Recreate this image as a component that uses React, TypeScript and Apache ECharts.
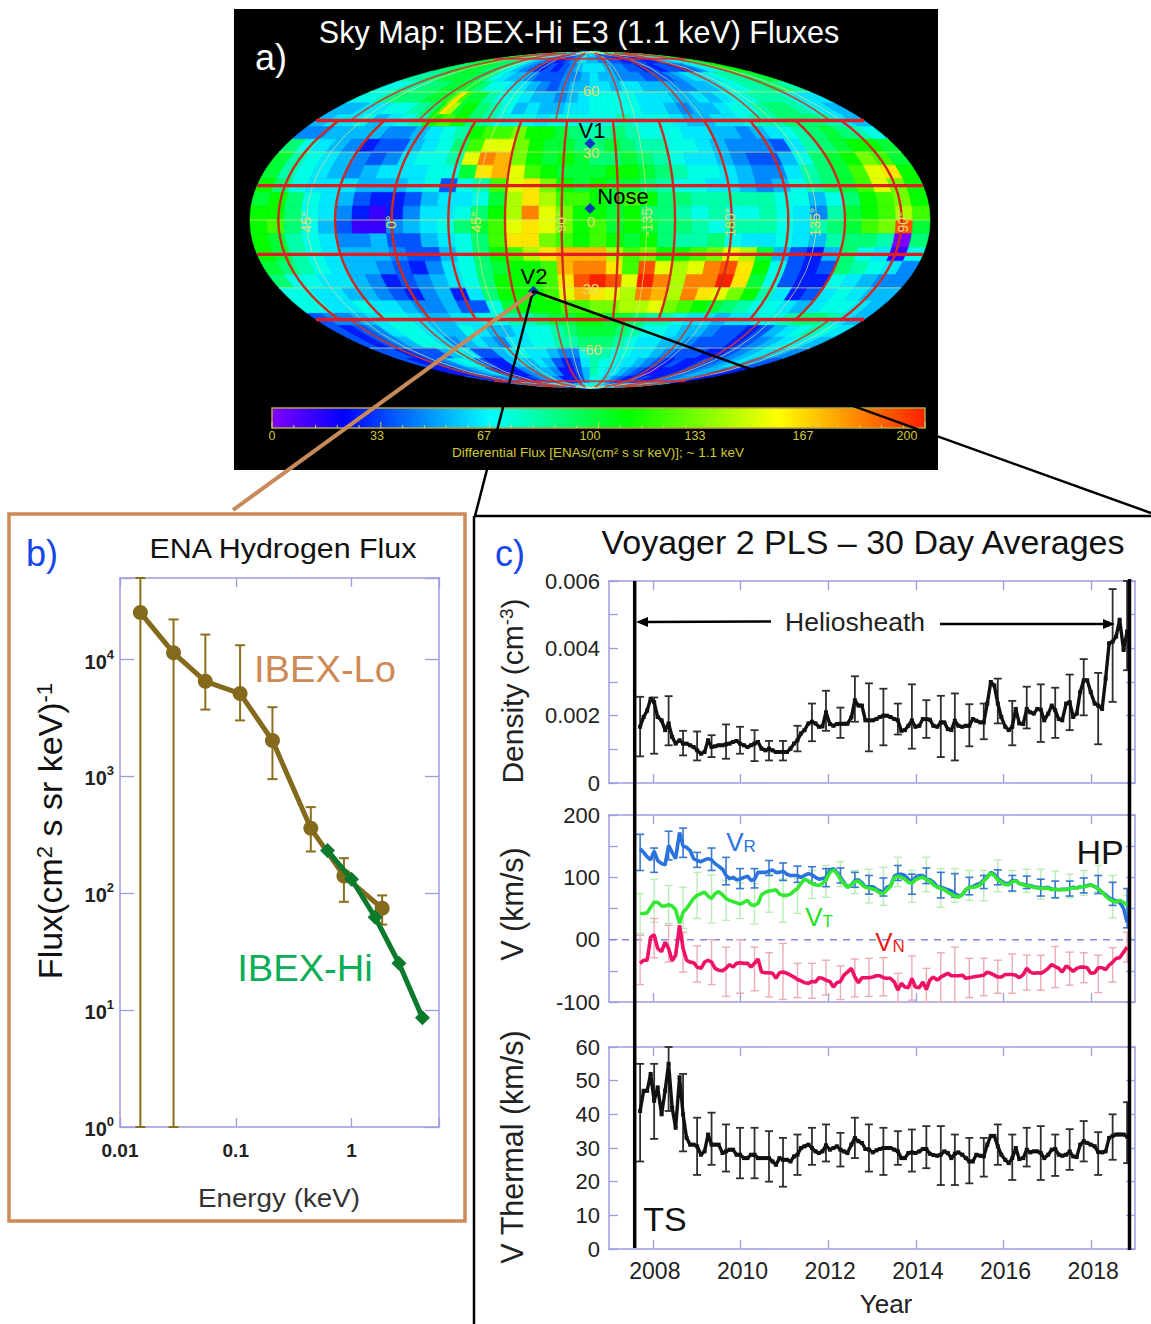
import React, { useEffect, useRef } from "react";
import * as echarts from "echarts";

const FONT = '"Liberation Sans", Arial, sans-serif';

/* ---------- panel a: sky map, level letters a..u index skyLevels, rows from lat 90 down, columns from the left rim ---------- */
const skyLevels = [0, 12, 27, 37, 46, 55, 63, 71, 81, 90, 100, 110, 120, 130, 140, 150, 160, 170, 180, 190, 200];
const skyRows = [
  "kjihhgggffeedddeeeffgfedddccddeefgghhiij",
  "kkkkjjjiggfedccdefgffeeddcccdccdefghijk",
  "jjkkkkjjihfedcdcdefgggfeeddcdcddcdeghjkl",
  "iijjkkkjjhgffedddeefgffeeeddde" + "fggghiijjk",
  "hhiijjkkkjhhggfedeffggfggfffeeffghhiijji",
  "hhhhiijjjjjjkkkk" + "mqmk" + "kkiihhhhggffffeeffgghhhhhhhhggggggffffggffgghhhhiiiiiihhgggg",
  "ffffgggghhhhiijj" + "lqok" + "lljjiihhffggffffgggghhhhhhhhggggffeeffffgghhhhiijjjjiihhggff",
  "fgghfghilmljihhhghhhhhihhhgffgghiijjjigf",
  "eeffffeefghilmmnllkjiijihhhggffefghijkjih",
  "jhgfecddfghjmppnlkkjjkjiihhgfeeedgijkllk",
  "kihgfedeghhipsrnlklkjjkjihggfeddfhjklnmk",
  "kihgfefggghhkqrpmlkkkllkjihhgfeegijkmpql",
  "ljhgggfffghdhimpqnlklkkjihhggfefhijkmpnl",
  "kljhgfdccdfgghkoqommlkmljjiiiiihhfhjlmnl",
  "lljhgecbcegghjlospnllkljjihihhihgeiklmom",
  "lmjhfdbbefghjkmpqpnlmklkjjihiiihgijkmntk",
  "lkihgeefddfghjmqqnmlmlkljiijhgghgfijjiaj",
  "lkihgfffeddfhjlmoqrrromnllmnpokfdcfjhgbh",
  "kjihgffedceghjkllmrssqmtpopstqlhdcdjihge",
  "jhhggfecdefghjlllmqtutpusossuqkhdcchgfee",
  "hhggffedcefcgjlllmprqposrosqpnligcdghgff",
  "hhgghggfeefddhklllmmnnoopnmlkjihhgfghhgf",
  "deefghhgffgghhiijkkllkkjiihggfgghhijjigf",
  "dcdeghhgffhgffghhijkkkjihhgffeddcdfghihg",
  "dcdefhhgefgfegghhiijjjihggffedddcdefghgf",
  "ddcdddfhgddfghggfeehiihhggfedddccdefggfe",
  "dccdeghgdccfgfgfdcdgihhggfedcdccddefgfed",
  "cccdefgdcccefffecbdfihggfedcbcccddeffedc",
  "dcccdefdccdeffecccdfhhgfedcccdccddeeffdc",
  "efeedcccdefggfeeffghhhggfeeeeffeeeffffgf",
];
const redParallels = [82, 45, 15, -15, -45, -82];
const redMeridiansMid = [-165, -135, -105, -75, -45, -15, 15, 45, 75, 105, 135, 165];
const redMeridiansPolar = [-157.5, -112.5, -67.5, -22.5, 22.5, 67.5, 112.5, 157.5];
const paleParallels = [60, 30, 0, -30, -60];
const paleMeridians = [-150, -105, -60, -15, 30, 75, 120, 165];
const skyPoints: [string, number, number][] = [["V1", 0, 34], ["Nose", 0, 5], ["V2", -33, -31.5]];
const lonLabels: [string, number][] = [["45°", 306], ["0°", 391], ["45°", 476], ["90°", 561], ["-135", 647], ["180°", 730], ["135°", 815], ["90°", 903]];
const latLabels: [string, number][] = [["60", 90], ["30", 152], ["0", 221], ["30", 288], ["-60", 349]];
const barLabels: [string, number][] = [["0", 272], ["33", 377], ["67", 484], ["100", 590], ["133", 695], ["167", 803], ["200", 907]];
const colorStops: [number, string][] = [[0, "#8000ff"], [22, "#0000ff"], [67, "#00ffff"], [109, "#00ff00"], [155, "#ffff00"], [200, "#ff2000"]];

/* ---------- panel b ---------- */
const loEnergy = [0.015, 0.029, 0.0546, 0.109, 0.2075, 0.445, 0.86, 1.84];
const loFlux = [25300, 11450, 6530, 5130, 2030, 360, 141, 74.5];
const loUpper = [50000, 22100, 16400, 13300, 3920, 547, 200, 96];
const loLower = [1, 1, 3740, 3020, 950, 228, 84.6, 54];
const hiEnergy = [0.62, 1.0, 1.6, 2.57, 4.1];
const hiFlux = [233, 132, 62.4, 25.2, 8.6];

/* ---------- panel c ---------- */
const years = [
  2007.71, 2007.79, 2007.87, 2007.95, 2008.03, 2008.11, 2008.2, 2008.28, 2008.36, 2008.44, 2008.52, 2008.61, 2008.69, 2008.77, 2008.85, 2008.93,
  2009.01, 2009.1, 2009.18, 2009.26, 2009.34, 2009.42, 2009.5, 2009.59, 2009.67, 2009.75, 2009.83, 2009.91, 2009.99, 2010.08, 2010.16, 2010.24,
  2010.32, 2010.4, 2010.48, 2010.57, 2010.65, 2010.73, 2010.81, 2010.89, 2010.97, 2011.06, 2011.14, 2011.22, 2011.3, 2011.38, 2011.46, 2011.55,
  2011.63, 2011.71, 2011.79, 2011.87, 2011.95, 2012.04, 2012.12, 2012.2, 2012.28, 2012.36, 2012.44, 2012.53, 2012.61, 2012.69, 2012.77, 2012.85,
  2012.93, 2013.02, 2013.1, 2013.18, 2013.26, 2013.34, 2013.42, 2013.51, 2013.59, 2013.67, 2013.75, 2013.83, 2013.91, 2013.99, 2014.08, 2014.16,
  2014.24, 2014.32, 2014.4, 2014.49, 2014.57, 2014.65, 2014.73, 2014.81, 2014.89, 2014.97, 2015.06, 2015.14, 2015.22, 2015.3, 2015.38, 2015.47,
  2015.55, 2015.63, 2015.71, 2015.79, 2015.87, 2015.95, 2016.04, 2016.12, 2016.2, 2016.28, 2016.36, 2016.45, 2016.53, 2016.61, 2016.69, 2016.77,
  2016.85, 2016.93, 2017.02, 2017.1, 2017.18, 2017.26, 2017.34, 2017.43, 2017.51, 2017.59, 2017.67, 2017.75, 2017.83, 2017.91, 2017.99, 2018.08,
  2018.16, 2018.25, 2018.33, 2018.41, 2018.49, 2018.57, 2018.65, 2018.74, 2018.82,
];
const evenYears = [2008, 2010, 2012, 2014, 2016, 2018];

// density in units of 0.001 cm^-3
const density = [
  1.67, 1.96, 2.15, 2.5, 2.4, 1.96, 1.86, 1.57, 1.77, 1.37, 1.17, 1.27, 1.17, 1.17, 1.12, 1.07, 0.97, 0.87, 0.92, 1.27, 1.07, 1.09, 1.12, 1.12,
  1.15, 1.17, 1.22, 1.25, 1.17, 1.12, 1.07, 1.12, 1.17, 1.22, 1.02, 0.97, 1.02, 0.97, 0.92, 0.92, 0.92, 0.92, 1.02, 1.17, 1.27, 1.47, 1.57, 1.77,
  1.82, 1.77, 1.67, 1.68, 2.1, 1.75, 1.7, 1.75, 1.76, 1.76, 1.76, 1.95, 2.46, 2.3, 2.3, 1.86, 1.86, 1.86, 1.9, 1.96, 2.0, 2.0, 1.96, 1.9,
  1.86, 1.55, 1.57, 1.7, 1.86, 1.67, 1.7, 1.9, 1.9, 1.88, 1.7, 1.67, 1.8, 1.8, 1.6, 1.57, 1.85, 1.7, 1.67, 1.7, 1.7, 1.9, 1.85, 1.8,
  1.8, 2.36, 3.0, 2.9, 2.36, 1.96, 1.67, 1.57, 1.67, 2.2, 1.77, 1.75, 2.2, 2.1, 2.06, 2.2, 2.18, 1.86, 2.06, 2.3, 2.16, 1.9, 1.86, 2.36,
  2.4, 1.96, 2.06, 2.7, 3.05, 3.05, 2.7, 2.36, 2.3, 2.2, 3.1, 4.15, 4.2, 4.35, 4.85, 3.95, 4.5,
];
const densityUpper = [2.56, 2.54, 2.58, 1.55, 1.53, 1.42, 1.74, 1.67, 1.57, 1.25, 1.25, 1.7, 2.36, 2.74, 2.24, 3.17, 2.96, 2.8, 2.36, 2.93, 2.46, 2.59, 2.66, 2.34, 2.36, 3.1, 2.44, 2.86, 2.93, 2.83, 3.22, 3.68, 3.27, 5.76, 6.0];
const densityLower = [0.79, 0.87, 1.12, 0.82, 0.67, 0.77, 0.72, 0.87, 0.65, 0.67, 0.67, 0.94, 1.24, 1.55, 1.34, 1.82, 0.94, 1.12, 1.44, 1.02, 1.34, 0.77, 0.67, 1.09, 1.3, 1.77, 1.12, 1.62, 1.22, 1.34, 1.57, 2.01, 1.15, 2.41, 3.35];

const vR = [
  146, 140, 133, 128, 142, 127, 122, 120, 151, 140, 130, 172, 150, 148, 143, 130, 127, 125, 128, 130, 128, 122, 118, 113, 103, 98, 100, 96,
  97, 100, 102, 95, 97, 108, 108, 108, 110, 112, 108, 108, 110, 105, 103, 103, 103, 100, 103, 106, 104, 100, 97, 98,
  100, 112, 114, 108, 100, 92, 84, 88, 95, 96, 91, 85, 85, 85, 81, 78, 76, 84, 86, 102, 105, 105, 103, 97, 93, 100, 103, 103, 97, 96, 92, 85,
  84, 82, 80, 78, 74, 70, 72, 80, 84, 85, 88, 90, 96, 100, 108, 105, 98, 94, 90, 90, 95, 95, 90, 89, 87, 87, 85, 84, 83, 83, 84, 81, 81, 80, 81, 81,
  82, 84, 83, 85, 85, 87, 88, 85, 82, 76, 72, 67, 64, 62, 60, 50, 28,
];
const vRUpper = [169, 147, 174, 179, 140, 147, 132, 114, 114, 127, 123, 118, 117, 114, 115, 108, 103, 99, 119, 105, 115, 108, 106, 100, 103, 112, 103, 102, 97, 94, 94, 99, 103, 92, 82];
const vRLower = [111, 108, 128, 132, 116, 111, 88, 82, 83, 103, 95, 92, 91, 85, 91, 84, 73, 70, 95, 73, 90, 67, 68, 72, 82, 88, 78, 82, 70, 67, 70, 75, 74, 55, 19];

const vT = [
  42, 42, 43, 52, 60, 60, 54, 54, 56, 54, 48, 26, 44, 50, 58, 66, 71, 74, 76, 70, 66, 74, 77, 72, 66, 63, 61, 59, 57, 60, 63, 56, 55, 58, 72, 76, 78, 79, 80, 73, 71, 71, 73, 78, 82, 90, 97, 94, 90, 88, 87, 90,
  96, 108, 112, 106, 97, 90, 84, 88, 93, 94, 88, 84, 83, 81, 79, 75, 74, 80, 85, 100, 102, 100, 97, 92, 90, 96, 99, 100, 96, 94, 88, 84,
  82, 80, 76, 73, 70, 68, 72, 80, 84, 84, 85, 88, 94, 100, 107, 103, 96, 92, 88, 88, 93, 94, 90, 88, 86, 86, 84, 83, 82, 82, 83, 80, 81, 80, 80, 80,
  82, 83, 83, 85, 85, 86, 88, 85, 82, 76, 70, 65, 62, 60, 63, 60, 55,
];
const vTUpper = [74, 97, 87, 84, 108, 104, 95, 91, 90, 106, 97, 98, 111, 119, 125, 111, 113, 116, 132, 111, 132, 114, 114, 111, 111, 128, 111, 113, 113, 110, 105, 111, 119, 103, 71];
const vTLower = [10, 28, 26, 18, 34, 27, 31, 34, 25, 44, 28, 42, 66, 68, 85, 74, 59, 55, 85, 60, 77, 52, 60, 63, 62, 77, 77, 76, 65, 68, 67, 71, 77, 35, 44];

const vN = [
  -38, -33, -33, 4, 8, -14, -19, -4, -14, -34, -25, 23, -14, -33, -36, -37, -44, -46, -36, -33, -36, -46, -49, -50, -46, -40, -44, -38, -37, -38, -38, -44, -38, -31, -52, -53, -53, -54, -62, -53, -52, -54, -57, -60, -64, -66, -69, -70, -67, -68, -61, -62,
  -65, -67, -76, -69, -67, -57, -52, -46, -60, -69, -61, -61, -61, -60, -58, -58, -61, -62, -62, -68, -81, -70, -76, -77, -62, -76, -77, -68, -80, -65, -60, -65,
  -60, -57, -54, -58, -58, -58, -57, -62, -61, -60, -59, -58, -57, -52, -54, -57, -60, -60, -56, -56, -56, -57, -61, -56, -46, -52, -54, -53, -54, -51, -46, -40, -43, -46, -52, -42,
  -46, -51, -46, -44, -44, -45, -54, -53, -45, -45, -48, -41, -36, -30, -29, -20, -12,
];
const vNUpper = [7, 34, 23, 12, -10, 0, -12, 0, -12, -21, -6, -38, -38, -33, -42, -31, -30, -29, -54, -26, -46, -21, -12, -30, -30, -33, -23, -25, -25, -11, -20, -21, -25, -13, 12];
const vNLower = [-72, -29, -36, -52, -68, -72, -91, -86, -82, -92, -96, -93, -94, -89, -96, -92, -91, -90, -100, -97, -100, -100, -100, -93, -90, -86, -86, -81, -81, -77, -73, -69, -85, -68, -36];

const vTh = [
  41, 47, 47, 52, 44, 48, 40, 47, 55, 42, 36, 51, 40, 33, 31, 31, 30.5, 28, 29, 34, 31, 31, 31, 28.5, 29, 29.5, 29.5, 28, 28, 27, 27, 28, 28, 27, 27, 27, 27, 26, 25, 27, 26.5, 26.5, 26, 27.5, 28, 30, 30.5, 31, 30, 29, 28.5, 29,
  30.8, 29.5, 30, 30.5, 29.5, 29, 28.5, 31, 33, 32, 31.5, 29.7, 29.5, 28.7, 29.3, 29.7, 30, 30, 30, 29.5, 29, 27, 27, 28.5, 28.7, 28.5, 29, 29.7, 29.7, 28.3, 27.9, 27.7,
  28, 29, 28.5, 27, 28.3, 28.7, 28, 27, 26, 26, 28, 27.7, 27.5, 31, 33.6, 33.6, 30.5, 28, 26.5, 25.5, 27, 30, 26.7, 27, 29.5, 28.7, 29, 29, 28.5, 27, 28, 29.5, 29.7, 28, 27.7, 28,
  29, 27.5, 27.3, 31, 32, 31.5, 31, 30.5, 28.8, 28.7, 29, 33, 33.6, 34, 34, 34, 33.4,
];
const vThUpper = [55, 55, 60, 52, 39, 40.5, 37, 36, 36, 35, 33, 34, 36, 37, 34.5, 39, 37, 36, 35, 35.5, 36.5, 36.5, 34, 33, 33, 37, 34, 36, 36.5, 34, 35.6, 38, 34.7, 40, 43.6];
const vThLower = [26, 32.7, 41, 29, 22, 25, 23, 21, 21, 20, 18.5, 22, 25, 26, 24.5, 27, 23, 22, 25, 23, 24, 19, 19, 19.5, 21.5, 25, 20.5, 24.5, 20.5, 21.7, 23.5, 26, 22, 26.5, 25.5];

/* ---------- helpers ---------- */
function colorOf(v: number): string {
  for (let i = 1; i < colorStops.length; i++) {
    if (v <= colorStops[i][0]) {
      const [a, ca] = colorStops[i - 1];
      const [b, cb] = colorStops[i];
      const t = (v - a) / (b - a);
      const ch = (c: string, k: number) => parseInt(c.slice(k, k + 2), 16);
      const m = (k: number) => Math.round(ch(ca, k) + (ch(cb, k) - ch(ca, k)) * t);
      return `rgb(${m(1)},${m(3)},${m(5)})`;
    }
  }
  return colorStops[colorStops.length - 1][1];
}
function moll(lon: number, lat: number): [number, number] {
  const phi = (lat * Math.PI) / 180;
  let th = phi;
  if (Math.abs(lat) < 90)
    for (let i = 0; i < 30; i++) {
      const f = 2 * th + Math.sin(2 * th) - Math.PI * Math.sin(phi);
      const d = 2 + 2 * Math.cos(2 * th);
      if (d < 1e-6) break;
      th -= f / d;
    }
  return [(lon / 180) * Math.cos(th), Math.sin(th)];
}

const skyData: number[][] = [];
skyRows.forEach((row, r) => {
  const n = row.length;
  for (let c = 0; c < n; c++) {
    const lonStep = 360 / n;
    skyData.push([-180 + c * lonStep, 90 - r * 6, skyLevels[row.charCodeAt(c) - 97], lonStep]);
  }
});
// kind 0 red meridian, 1 red parallel, 2 pale meridian, 3 pale parallel, 4 dull polar meridian, 5 thin polar parallel
const graticule: number[][] = [
  ...paleParallels.map((l) => [l, 0, 0, 3]),
  ...paleMeridians.map((l) => [l, -90, 90, 2]),
  ...redMeridiansMid.map((l) => [l, -45, 45, 0]),
  ...redMeridiansPolar.map((l) => [l, 45, 88, 4]),
  ...redMeridiansPolar.map((l) => [l, -88, -45, 4]),
  ...redParallels.map((l) => [l, 0, 0, Math.abs(l) > 80 ? 5 : 1]),
];

const PERI = "#9c9ce2";
const errorSeries = (xi: number, xs: number[], hi: number[], lo: number[], color: string, width: number, cap: number) => ({
  type: "custom",
  xAxisIndex: xi,
  yAxisIndex: xi,
  data: xs.map((x, i) => [x, lo[i], hi[i]]),
  encode: { x: 0, y: [1, 2] },
  silent: true,
  z: 2,
  renderItem: (_p: any, api: any) => {
    const a = api.coord([api.value(0), api.value(1)]);
    const b = api.coord([api.value(0), api.value(2)]);
    const style = { stroke: color, lineWidth: width, fill: "none" };
    return {
      type: "group",
      children: [
        { type: "line", shape: { x1: a[0], y1: a[1], x2: b[0], y2: b[1] }, style },
        { type: "line", shape: { x1: a[0] - cap, y1: a[1], x2: a[0] + cap, y2: a[1] }, style },
        { type: "line", shape: { x1: b[0] - cap, y1: b[1], x2: b[0] + cap, y2: b[1] }, style },
      ],
    };
  },
});
const everyFourth = (a: number[]) => a.filter((_, i) => i % 4 === 0);
const yearBars = everyFourth(years);
const lineSeries = (xi: number, vals: number[], color: string, width: number, sym: number, z = 3) => ({
  type: "line",
  xAxisIndex: xi,
  yAxisIndex: xi,
  data: vals.map((v, i) => [years[i], v]),
  showSymbol: sym > 0,
  symbol: "rect",
  symbolSize: sym,
  itemStyle: { color },
  lineStyle: { color, width },
  silent: true,
  z,
});

const axisLine = { show: true, onZero: false, lineStyle: { color: PERI, width: 1.5 } };
const tickBase = { show: true, inside: true, length: 9, lineStyle: { color: PERI, width: 1.3 } };
const LABEL = { color: "#222", fontFamily: FONT, fontSize: 22 };

const cX = (grid: number, labels: boolean) => [
  {
    type: "value", gridIndex: grid, min: 2007, max: 2019, position: "bottom", splitLine: { show: false }, axisLine,
    axisTick: { ...tickBase, customValues: evenYears },
    axisLabel: labels ? { ...LABEL, fontSize: 23, margin: 10, padding: [0, 0, 0, 4], customValues: evenYears, formatter: (v: number) => String(v) } : { show: false },
  },
  {
    type: "value", gridIndex: grid, min: 2007, max: 2019, position: "top", splitLine: { show: false }, axisLine,
    axisTick: { ...tickBase, customValues: evenYears }, axisLabel: { show: false },
  },
];
const cY = (grid: number, min: number, max: number, interval: number, fmt: (v: number) => string) => [
  {
    type: "value", gridIndex: grid, min, max, interval, position: "left", splitLine: { show: false }, axisLine, axisTick: tickBase,
    axisLabel: { ...LABEL, margin: 9, formatter: fmt },
  },
  {
    type: "value", gridIndex: grid, min, max, interval, position: "right", splitLine: { show: false }, axisLine, axisTick: tickBase,
    axisLabel: { show: false },
  },
];

function txt(text: string, x: number, y: number, size: number, fill: string, extra: any = {}) {
  const { rotation, align, scaleX, ...rest } = extra;
  return {
    type: "text", x, y, rotation: rotation || 0, scaleX: scaleX || 1, z: 60, silent: true,
    style: { text, fill, font: `${size}px ${FONT}`, align: align || "center", verticalAlign: "middle", ...rest },
  };
}
function ln(x1: number, y1: number, x2: number, y2: number, stroke: string, lineWidth: number, z = 55) {
  return { type: "line", z, silent: true, shape: { x1, y1, x2, y2 }, style: { stroke, lineWidth, lineCap: "butt" } };
}
const sup = (s: number, n: number, color: string) => ({
  n: { fontSize: n, fontFamily: FONT, fill: color, verticalAlign: "bottom" },
  s: { fontSize: s, fontFamily: FONT, fill: color, verticalAlign: "top" },
});
const sub = (s: number, n: number, color: string) => ({
  n: { fontSize: n, fontFamily: FONT, fill: color, verticalAlign: "top" },
  s: { fontSize: s, fontFamily: FONT, fill: color, verticalAlign: "bottom" },
});

function buildOption() {
  const barX = 272, barW = 653;
  const barTicks: any[] = [];
  for (let i = 0; i <= 30; i++) {
    const x = barX + (i * barW) / 30;
    barTicks.push(ln(x, 428, x, i % 5 === 0 ? 422 : 425, "#d8d060", 1, 5));
  }
  const graphic: any[] = [
    { type: "rect", z: -1, silent: true, shape: { x: 234, y: 9, width: 704, height: 461 }, style: { fill: "#000" } },
    {
      type: "rect", z: 1, silent: true, shape: { x: barX, y: 408, width: barW, height: 20 },
      style: {
        stroke: "#b5a840", lineWidth: 1.5,
        fill: new echarts.graphic.LinearGradient(0, 0, 1, 0, colorStops.map(([v, c]) => ({ offset: v / 200, color: c }))),
      },
    },
    ...barTicks,
    ...barLabels.map(([t, x]) => txt(t, x, 436, 12.5, "#cfc838")),
    txt("Differential Flux [ENAs/(cm² s sr keV)]; ~ 1.1 keV", 598, 452, 13.5, "#cfc838"),
    ...lonLabels.map(([t, x]) => txt(t, x, 222, 14, "#dfe06a", { rotation: Math.PI / 2 })),
    ...latLabels.map(([t, y]) => txt(t, 591, y, 15, "#dfe06a")),
    txt("Sky Map: IBEX-Hi E3 (1.1 keV) Fluxes", 579, 32, 30.5, "#fff"),
    txt("a)", 271, 57, 36, "#fff"),
    txt("V1", 592, 130, 22, "#000"),
    txt("Nose", 623, 196, 22, "#000"),
    txt("V2", 534, 276, 22, "#000"),
    // leader lines and frames
    ln(533, 291, 1151, 513, "#000", 2.5),
    ln(533, 291, 475, 516, "#000", 2.5),
    ln(532, 293, 233, 510, "#c98a5a", 4),
    ln(474, 516, 1151, 516, "#000", 2.5),
    ln(474, 516, 474, 1324, "#000", 2.5),
    {
      type: "rect", z: 40, silent: true, shape: { x: 9, y: 514, width: 456, height: 707 },
      style: { fill: "none", stroke: "#cb8a57", lineWidth: 3.5 },
    },
    // panel b texts
    txt("b)", 42, 553, 36, "#1746e8"),
    txt("ENA Hydrogen Flux", 283, 548, 28, "#111", { scaleX: 1.086 }),
    txt("IBEX-Lo", 325, 669, 36, "#ce8a55", { scaleX: 1.06 }),
    txt("IBEX-Hi", 305, 968, 36, "#0aae56", { scaleX: 1.06 }),
    txt("Energy (keV)", 279, 1198, 26, "#333", { scaleX: 1.07 }),
    txt("{n|Flux(cm}{s|2}{n| s sr keV)}{s|-1}", 50, 831, 34, "#111", { rotation: Math.PI / 2, rich: sup(22, 34, "#111") }),
    // panel c texts
    txt("c)", 510, 553, 36, "#1746e8"),
    txt("Voyager 2 PLS – 30 Day Averages", 863, 542, 34, "#111"),
    txt("{n|Density (cm}{s|-3}{n|)}", 512, 691, 30, "#222", { rotation: Math.PI / 2, rich: sup(19, 30, "#222") }),
    txt("V (km/s)", 512, 904, 30.5, "#222", { rotation: Math.PI / 2 }),
    txt("V Thermal (km/s)", 512, 1147, 30.5, "#222", { rotation: Math.PI / 2 }),
    txt("Year", 886, 1304, 26, "#222"),
    txt("Heliosheath", 855, 622, 26.5, "#222"),
    txt("HP", 1100, 852, 34, "#111"),
    txt("TS", 665, 1219, 34, "#111"),
    txt("{n|V}{s|R}", 741, 842, 26, "#2a72dc", { rich: sub(17, 26, "#2a72dc") }),
    txt("{n|V}{s|T}", 819, 917, 26, "#22e022", { rich: sub(17, 26, "#22e022") }),
    txt("{n|V}{s|N}", 890, 942, 26, "#ee1a1a", { rich: sub(17, 26, "#ee1a1a") }),
    // heliosheath arrows and boundaries
    ln(771, 621.5, 645, 622, "#000", 2.6),
    { type: "polygon", z: 55, silent: true, shape: { points: [[636, 622], [648, 617], [648, 627]] }, style: { fill: "#000" } },
    ln(940, 624, 1106, 624, "#000", 2.6),
    { type: "polygon", z: 55, silent: true, shape: { points: [[1115, 624], [1103, 619], [1103, 629]] }, style: { fill: "#000" } },
    ln(634.7, 581, 634.7, 1248, "#000", 3.5),
    ln(1129.5, 579, 1129.5, 1250, "#000", 3.5),
  ];

  const skyAxisX = { type: "value", gridIndex: 0, min: -1, max: 1, show: false };
  const skyAxisY = { type: "value", gridIndex: 0, min: -1, max: 1, show: false };

  const logLabel = (v: number) => {
    const e = Math.log10(v);
    return Math.abs(e - Math.round(e)) < 1e-6 ? `{b|10}{s|${Math.round(e)}}` : "";
  };
  const xLabel = (v: number) => {
    if (Math.abs(v - 0.01) < 1e-6) return "0.01";
    if (Math.abs(v - 0.1) < 1e-6) return "0.1";
    if (Math.abs(v - 1) < 1e-6) return "1";
    return "";
  };

  const xAxis: any[] = [
    skyAxisX,
    {
      type: "log", gridIndex: 1, min: 0.01, max: 5.7, position: "bottom", splitLine: { show: false }, minorTick: { show: false }, axisLine,
      axisTick: { ...tickBase, length: 9 },
      axisLabel: { color: "#222", fontFamily: FONT, fontSize: 19, fontWeight: "bold", margin: 14, formatter: xLabel, hideOverlap: false },
    },
    {
      type: "log", gridIndex: 1, min: 0.01, max: 5.7, position: "top", splitLine: { show: false }, axisLine,
      axisTick: { ...tickBase, length: 9 }, axisLabel: { show: false },
    },
    ...cX(2, false),
    ...cX(3, false),
    ...cX(4, true),
  ];
  const densFmt = (v: number) => (v === 0 ? "0" : v % 2 === 0 ? (v / 1000).toFixed(3) : "");
  const vFmt = (v: number) => (v === 0 ? "00" : v % 100 === 0 ? String(v) : "");
  const yAxis: any[] = [
    skyAxisY,
    {
      type: "log", gridIndex: 1, min: 1, max: 50000, position: "left", splitLine: { show: false }, axisLine,
      axisTick: { ...tickBase, length: 14 },
      axisLabel: {
        margin: 6, formatter: logLabel,
        rich: {
          b: { fontFamily: FONT, fontSize: 20, fontWeight: "bold", color: "#222", verticalAlign: "bottom", lineHeight: 24 },
          s: { fontFamily: FONT, fontSize: 13, fontWeight: "bold", color: "#222", verticalAlign: "top", lineHeight: 24 },
        },
      },
    },
    {
      type: "log", gridIndex: 1, min: 1, max: 50000, position: "right", splitLine: { show: false }, axisLine,
      axisTick: { ...tickBase, length: 14 }, axisLabel: { show: false },
    },
    ...cY(2, 0, 6, 1, densFmt),
    ...cY(3, -100, 200, 50, vFmt),
    ...cY(4, 0, 60, 10, (v) => String(v)),
  ];

  const C1 = 3, C2 = 5, C3 = 7;
  const series: any[] = [
    {
      type: "custom", xAxisIndex: 0, yAxisIndex: 0, data: skyData, silent: true, z: 2,
      encode: { x: 0, y: 1 },
      renderItem: (_p: any, api: any) => {
        const lon = api.value(0), lat = api.value(1), v = api.value(2), step = api.value(3);
        const lat2 = lat - 6, mid = lat - 3;
        const pts = [[lon, lat], [lon + step, lat], [lon + step, mid], [lon + step, lat2], [lon, lat2], [lon, mid]].map(([a, b]) =>
          api.coord(moll(a, b))
        );
        const c = colorOf(v);
        return { type: "polygon", shape: { points: pts }, style: { fill: c, stroke: c, lineWidth: 0.7 } };
      },
    },
    {
      type: "custom", xAxisIndex: 0, yAxisIndex: 0, data: graticule, silent: true, z: 3,
      encode: { x: 0, y: 1 },
      renderItem: (_p: any, api: any) => {
        const a = api.value(0), b = api.value(1), c = api.value(2), k = api.value(3);
        let pts: number[][] = [];
        if (k === 0 || k === 2 || k === 4) {
          for (let i = 0; i <= 24; i++) pts.push(api.coord(moll(a, b + ((c - b) * i) / 24)));
        } else {
          pts = [api.coord(moll(-180, a)), api.coord(moll(180, a))];
        }
        const style =
          k === 0 ? { stroke: "#cf2a1c", lineWidth: 2.4, fill: "none" }
          : k === 1 ? { stroke: "#e01c24", lineWidth: 3.4, fill: "none" }
          : k === 4 ? { stroke: "rgba(200,60,40,0.85)", lineWidth: 1.8, fill: "none" }
          : k === 5 ? { stroke: "rgba(215,40,50,0.85)", lineWidth: 2, fill: "none" }
          : { stroke: "rgba(225,228,130,0.7)", lineWidth: 1, fill: "none" };
        return { type: "polyline", shape: { points: pts }, style };
      },
    },
    {
      type: "scatter", xAxisIndex: 0, yAxisIndex: 0, silent: true, z: 4, symbol: "diamond", symbolSize: 11,
      itemStyle: { color: "#0a0ad8" },
      data: skyPoints.map(([, lo, la]) => moll(lo, la)),
    },

    // panel b
    errorSeries(1, loEnergy, loUpper, loLower, "#8a6f1e", 2, 5),
    {
      type: "line", xAxisIndex: 1, yAxisIndex: 1, silent: true, z: 3, symbol: "circle", symbolSize: 15,
      data: loEnergy.map((e, i) => [e, loFlux[i]]),
      lineStyle: { color: "#846a1c", width: 5 }, itemStyle: { color: "#846a1c" },
    },
    {
      type: "line", xAxisIndex: 1, yAxisIndex: 1, silent: true, z: 4, symbol: "diamond", symbolSize: 15,
      data: hiEnergy.map((e, i) => [e, hiFlux[i]]),
      lineStyle: { color: "#0b7a2c", width: 5 }, itemStyle: { color: "#0b7a2c" },
    },

    // panel c density
    errorSeries(C1, yearBars, densityUpper, densityLower, "#2e2e2e", 1.8, 4),
    lineSeries(C1, density, "#111", 3.4, 4),

    // panel c velocities
    {
      type: "line", xAxisIndex: C2, yAxisIndex: C2, silent: true, z: 1, showSymbol: false,
      data: [[2007, 0], [2019, 0]],
      lineStyle: { color: "#8484e4", width: 1.5, type: [7, 6] },
    },
    errorSeries(C2, yearBars, vTUpper, vTLower, "#b9edb4", 1.4, 4),
    errorSeries(C2, yearBars, vNUpper, vNLower, "#edabb4", 1.4, 4),
    errorSeries(C2, yearBars, vRUpper, vRLower, "#3b78cf", 1.6, 4),
    lineSeries(C2, vR, "#2a72dc", 3.6, 0, 3),
    lineSeries(C2, vN, "#ee1166", 3.6, 0, 3),
    lineSeries(C2, vT, "#33e833", 3.6, 0, 4),

    // panel c thermal
    errorSeries(C3, yearBars, vThUpper, vThLower, "#2e2e2e", 1.8, 4),
    lineSeries(C3, vTh, "#111", 3.4, 4),
  ];

  return {
    animation: false,
    backgroundColor: "#fff",
    tooltip: { show: false },
    legend: { show: false },
    grid: [
      { left: 250, top: 52, width: 680, height: 336 },
      { left: 120, top: 578, width: 319, height: 549 },
      { left: 609, top: 581, width: 526, height: 202 },
      { left: 609, top: 815, width: 526, height: 187 },
      { left: 609, top: 1047, width: 526, height: 202 },
    ],
    xAxis,
    yAxis,
    series,
    graphic: { elements: graphic },
  };
}

export default function App() {
  const ref = useRef<HTMLDivElement>(null);
  useEffect(() => {
    if (!ref.current) return;
    const chart = echarts.init(ref.current, undefined, { renderer: "svg" });
    chart.setOption(buildOption() as any);
    return () => chart.dispose();
  }, []);
  return <div ref={ref} style={{ position: "absolute", left: 0, top: 0, width: 1151, height: 1324 }} />;
}
